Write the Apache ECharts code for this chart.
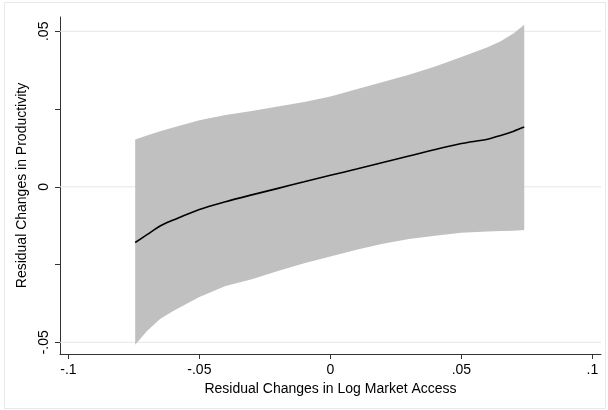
<!DOCTYPE html>
<html>
<head>
<meta charset="utf-8">
<script src="https://cdn.jsdelivr.net/npm/echarts@6/dist/echarts.min.js"></script>
<style>html,body{margin:0;padding:0;background:#fff;}#c{width:608px;height:410px;}</style>
</head>
<body>
<div id="c"></div>
<script>
// ---- data ----
const xs    = [-0.0745,-0.07,-0.065,-0.06,-0.05,-0.04,-0.03,-0.02,-0.01,0,0.01,0.02,0.03,0.04,0.05,0.06,0.065,0.07,0.074];
const fit   = [-0.0179,-0.0154,-0.0126,-0.0107,-0.0073,-0.0048,-0.0026,-0.0005,0.0016,0.0037,0.0057,0.0078,0.0099,0.0120,0.0139,0.0153,0.0165,0.0179,0.0192];
const upper = [0.0152,0.0165,0.0179,0.0191,0.0214,0.0231,0.0244,0.0258,0.0273,0.0290,0.0314,0.0337,0.0360,0.0387,0.0417,0.0449,0.0468,0.0494,0.0521];
const lower = [-0.0508,-0.0464,-0.0425,-0.0399,-0.0354,-0.0319,-0.0297,-0.0271,-0.0246,-0.0224,-0.0202,-0.0183,-0.0168,-0.0157,-0.0148,-0.0144,-0.0142,-0.0141,-0.0139];
const xTicks = [-0.1,-0.05,0,0.05,0.1];
const yTicks = [-0.05,-0.025,0,0.025,0.05];
const yLabels = [-0.05,0,0.05];
const gridYs = [-0.05,0,0.05];
const xTitle = 'Residual Changes in Log Market Access';
const yTitle = 'Residual Changes in Productivity';

const XMIN = -0.1032, XMAX = 0.1033, YMIN = -0.05376, YMAX = 0.0546;

function stata(v){
  if (Math.abs(v) < 1e-12) return '0';
  let s = String(+v.toFixed(4));
  return s.replace(/^(-?)0\./, '$1.');
}

const chart = echarts.init(document.getElementById('c'), null, {renderer:'canvas'});
const font = 'Liberation Sans, Arial, sans-serif';
const axisCol = '#333';

const series = [];
gridYs.forEach(g => {
  series.push({
    type:'line', z:1, silent:true, symbol:'none',
    data:[[XMIN,g],[XMAX,g]],
    lineStyle:{color:'#e6e6e6', width:1}
  });
});
series.push({
  type:'custom', z:2, silent:true,
  data:[[0,0]],
  renderItem: function(params, api){
    const pts = [];
    for (let i=0;i<xs.length;i++) pts.push(api.coord([xs[i], upper[i]]));
    for (let i=xs.length-1;i>=0;i--) pts.push(api.coord([xs[i], lower[i]]));
    return {type:'polygon', shape:{points:pts}, style:{fill:'#c0c0c0', stroke:null}};
  }
});
series.push({
  type:'line', z:3, silent:true, symbol:'none', smooth:0.3,
  data: xs.map((x,i)=>[x, fit[i]]),
  lineStyle:{color:'#000', width:1.6}
});

chart.setOption({
  animation:false,
  backgroundColor:'#fff',
  graphic:[{type:'rect', shape:{x:4.5,y:2.5,width:601,height:406}, style:{fill:null, stroke:'#e8e8e8', lineWidth:1}, z:-1}],
  grid:{left:60, right:7, top:17, bottom:56, containLabel:false},
  xAxis:{
    type:'value', min:XMIN, max:XMAX,
    name:xTitle, nameLocation:'middle', nameGap:23,
    nameTextStyle:{fontFamily:font, fontSize:14, color:'#000'},
    axisLine:{show:true, onZero:false, lineStyle:{color:axisCol, width:1}},
    axisTick:{show:true, customValues:xTicks, length:5, lineStyle:{color:axisCol}},
    axisLabel:{customValues:xTicks, formatter:stata, fontFamily:font, fontSize:14, color:'#000', margin:9},
    splitLine:{show:false}
  },
  yAxis:{
    type:'value', min:YMIN, max:YMAX,
    name:yTitle, nameLocation:'middle', nameGap:24, nameRotate:90,
    nameTextStyle:{fontFamily:font, fontSize:14, color:'#000'},
    axisLine:{show:true, onZero:false, lineStyle:{color:axisCol, width:1}},
    axisTick:{show:true, customValues:yTicks, length:5, lineStyle:{color:axisCol}},
    axisLabel:{customValues:yLabels, formatter:stata, rotate:90, fontFamily:font, fontSize:14, color:'#000', margin:9},
    splitLine:{show:false}
  },
  series: series
});
</script>
</body>
</html>
